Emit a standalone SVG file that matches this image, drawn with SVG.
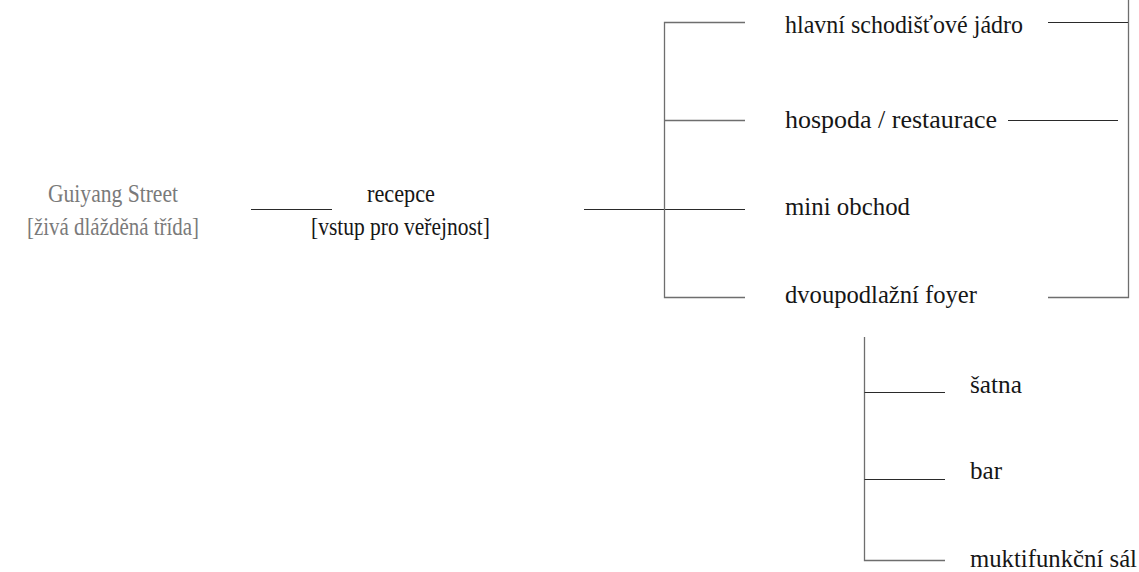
<svg xmlns="http://www.w3.org/2000/svg" width="1139" height="572" viewBox="0 0 1139 572">
<style>
.t{font-family:"Liberation Serif","Times New Roman",serif;font-size:25px;fill:#161616}
.g{fill:#7a7a7a}
.br{fill:none;stroke:#6e6e6e;stroke-width:1.3}
.ln{fill:none;stroke:#2a2a2a;stroke-width:1.2}
</style>
<rect width="1139" height="572" fill="#ffffff"/>
<g id="connectors">
<line class="ln" x1="251" y1="209.5" x2="332" y2="209.5"/>
<line class="ln" x1="584" y1="209.5" x2="745" y2="209.5"/>
<path class="br" d="M745 22.5H664.5V297.5H745"/>
<line class="br" x1="664.5" y1="120.5" x2="745" y2="120.5"/>
<path class="br" d="M1048 297.5H1128.5V0"/>
<line class="ln" x1="1048" y1="22.5" x2="1128" y2="22.5"/>
<line class="ln" x1="1008" y1="120.5" x2="1118" y2="120.5"/>
<path class="br" d="M864.5 337V560.5H945"/>
<line class="ln" x1="864.5" y1="392.5" x2="945" y2="392.5"/>
<line class="ln" x1="864.5" y1="479.5" x2="945" y2="479.5"/>
</g>
<g id="guiyang"><text class="t g" x="48" y="202" textLength="130" lengthAdjust="spacingAndGlyphs">Guiyang Street</text><text class="t g" x="27" y="235" textLength="172" lengthAdjust="spacingAndGlyphs">[živá dlážděná třída]</text></g>
<g id="recepce"><text class="t" x="367" y="202" textLength="68" lengthAdjust="spacingAndGlyphs">recepce</text><text class="t" x="311" y="235" textLength="179" lengthAdjust="spacingAndGlyphs">[vstup pro veřejnost]</text></g>
<g id="jadro"><text class="t" x="785" y="33" textLength="238" lengthAdjust="spacingAndGlyphs">hlavní schodišťové jádro</text></g>
<g id="hospoda"><text class="t" x="785" y="128" textLength="212" lengthAdjust="spacingAndGlyphs">hospoda / restaurace</text></g>
<g id="obchod"><text class="t" x="785" y="215" textLength="125" lengthAdjust="spacingAndGlyphs">mini obchod</text></g>
<g id="foyer"><text class="t" x="785" y="303" textLength="192" lengthAdjust="spacingAndGlyphs">dvoupodlažní foyer</text></g>
<g id="satna"><text class="t" x="970" y="393" textLength="52" lengthAdjust="spacingAndGlyphs">šatna</text></g>
<g id="bar"><text class="t" x="970" y="479" textLength="32" lengthAdjust="spacingAndGlyphs">bar</text></g>
<g id="sal"><text class="t" x="970" y="567" textLength="167" lengthAdjust="spacingAndGlyphs">muktifunkční sál</text></g>
</svg>
